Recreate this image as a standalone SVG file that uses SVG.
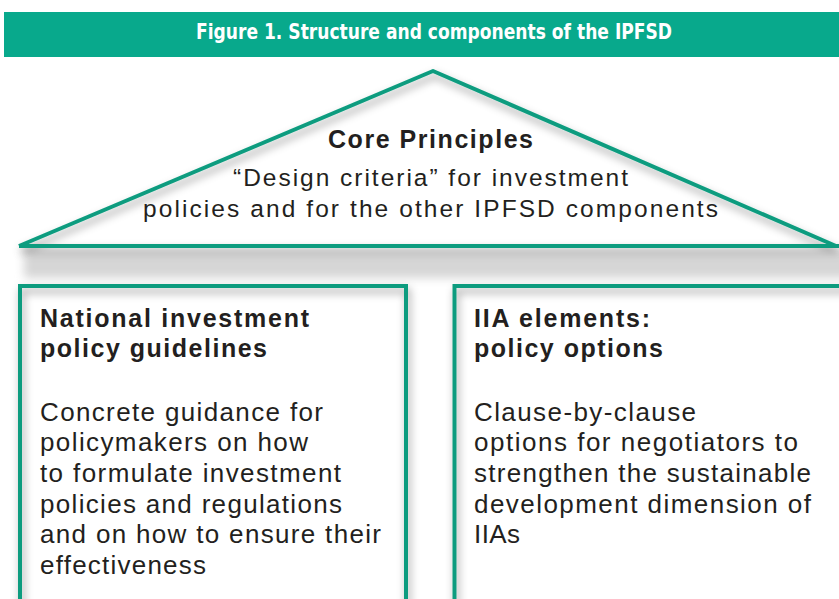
<svg xmlns="http://www.w3.org/2000/svg" width="839" height="599" viewBox="0 0 839 599">
  <style>
    .ttl { font-family: "DejaVu Sans Condensed", "Liberation Sans Narrow", "Liberation Sans", sans-serif; font-weight: bold; font-size: 21px; fill: #ffffff; font-stretch: condensed; }
    .hd { font-family: "Liberation Sans", Arial, sans-serif; font-weight: bold; font-size: 25px; fill: #231f20; }
    .tx { font-family: "Liberation Sans", Arial, sans-serif; font-size: 24.5px; fill: #231f20; }
    .bd { font-family: "Liberation Sans", Arial, sans-serif; font-size: 26px; fill: #231f20; }
    .ln { fill: none; stroke: #0e9c7f; stroke-width: 4; }
  </style>
  <defs>
    <filter id="sh" x="-5%" y="-10%" width="115%" height="130%">
      <feGaussianBlur in="SourceAlpha" stdDeviation="4"/>
      <feOffset dx="2" dy="5" result="b"/>
      <feFlood flood-color="#000000" flood-opacity="0.38"/>
      <feComposite in2="b" operator="in"/>
      <feMerge><feMergeNode/><feMergeNode in="SourceGraphic"/></feMerge>
    </filter>
    <filter id="bl" x="-5%" y="-50%" width="110%" height="200%">
      <feGaussianBlur stdDeviation="5"/>
    </filter>
  </defs>
  <rect width="839" height="599" fill="#ffffff"/>

  <g id="title">
    <rect x="4" y="12" width="835" height="45" fill="#08a98c"/>
    <text class="ttl" x="196" y="39" textLength="476" lengthAdjust="spacingAndGlyphs">Figure 1. Structure and components of the IPFSD</text>
  </g>

  <rect x="24" y="252" width="830" height="26" fill="#d6d6d6" filter="url(#bl)"/>

  <g id="core">
    <path class="ln" d="M19 246 L433 71 L836 246 M19 246 L839 246" stroke-linejoin="round" filter="url(#sh)"/>
    <text class="hd" x="328" y="148" textLength="205" lengthAdjust="spacing">Core Principles</text>
    <text class="tx" x="233" y="186" textLength="395" lengthAdjust="spacing">“Design criteria” for investment</text>
    <text class="tx" x="143" y="217" textLength="575" lengthAdjust="spacing">policies and for the other IPFSD components</text>
  </g>

  <g id="national">
    <rect x="20" y="286" width="386" height="340" fill="#ffffff"/>
    <rect class="ln" x="20" y="286" width="386" height="340" filter="url(#sh)"/>
    <text class="hd" x="40" y="327" textLength="269" lengthAdjust="spacing">National investment</text>
    <text class="hd" x="40" y="357" textLength="227" lengthAdjust="spacing">policy guidelines</text>
    <text class="bd" x="40" y="420.5" textLength="283" lengthAdjust="spacing">Concrete guidance for</text>
    <text class="bd" x="40" y="451.2" textLength="268" lengthAdjust="spacing">policymakers on how</text>
    <text class="bd" x="40" y="481.9" textLength="301" lengthAdjust="spacing">to formulate investment</text>
    <text class="bd" x="40" y="512.6" textLength="302" lengthAdjust="spacing">policies and regulations</text>
    <text class="bd" x="40" y="543.3" textLength="341" lengthAdjust="spacing">and on how to ensure their</text>
    <text class="bd" x="40" y="574" textLength="166" lengthAdjust="spacing">effectiveness</text>
  </g>

  <g id="iia">
    <rect x="454.5" y="286" width="400" height="340" fill="#ffffff"/>
    <rect class="ln" x="454.5" y="286" width="400" height="340" filter="url(#sh)"/>
    <text class="hd" x="474" y="327" textLength="176" lengthAdjust="spacing">IIA elements:</text>
    <text class="hd" x="474" y="357" textLength="189" lengthAdjust="spacing">policy options</text>
    <text class="bd" x="474" y="420.5" textLength="222" lengthAdjust="spacing">Clause-by-clause</text>
    <text class="bd" x="474" y="451.2" textLength="324" lengthAdjust="spacing">options for negotiators to</text>
    <text class="bd" x="474" y="481.9" textLength="337" lengthAdjust="spacing">strengthen the sustainable</text>
    <text class="bd" x="474" y="512.6" textLength="337" lengthAdjust="spacing">development dimension of</text>
    <text class="bd" x="474" y="543.3" textLength="46" lengthAdjust="spacing">IIAs</text>
  </g>

  <g id="connectors"/>
</svg>
